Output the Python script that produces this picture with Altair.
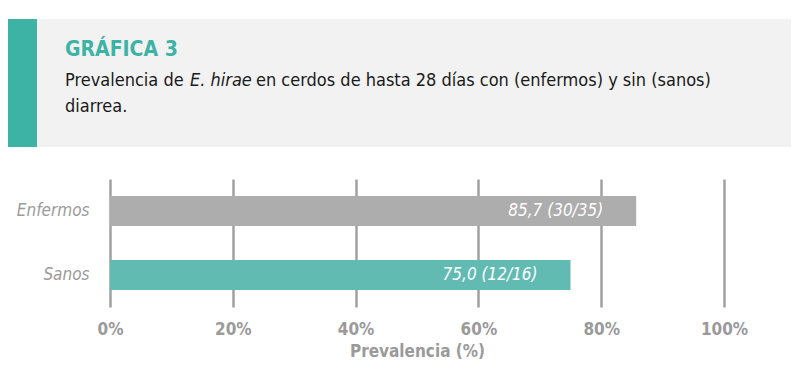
import altair as alt
import pandas as pd

categories = ["Enfermos", "Sanos"]
values = [85.7, 75.0]
labels = ["85,7 (30/35)", "75,0 (12/16)"]
colors = ["#adadad", "#62bbb3"]
ticks = [0, 20, 40, 60, 80, 100]

title_text = "GRÁFICA 3"
sub_a = "Prevalencia de"
sub_b = "E. hirae"
sub_c = "en cerdos de hasta 28 días con (enfermos) y sin (sanos)"
sub_d = "diarrea."

FONT = "'DejaVu Sans Condensed', Roboto, sans-serif"

df = pd.DataFrame({"cat": categories, "val": values, "lab": labels, "col": colors})
one = pd.DataFrame({"a": [0]})

y_enc = alt.Y("cat:N", sort=categories, title=None,
              scale=alt.Scale(paddingInner=0, paddingOuter=0),
              axis=alt.Axis(labelFont=FONT, labelFontStyle="italic", labelFontSize=17,
                            labelColor="#9a9a9a", labelPadding=21, domain=False, ticks=False,
                            grid=False))
x_enc = alt.X("val:Q", title="Prevalencia (%)",
              scale=alt.Scale(domain=[0, 100], nice=False),
              axis=alt.Axis(values=ticks, labelExpr="datum.value + '%'", labelFont=FONT,
                            labelFontWeight="bold", labelFontSize=17, labelColor="#9a9a9a",
                            labelPadding=14, labelFlush=False, titleFont=FONT,
                            titleFontWeight="bold",
                            titleFontSize=17, titleColor="#9a9a9a", titlePadding=6,
                            domain=False, ticks=False, grid=True, gridColor="#a0a0a0",
                            gridWidth=2.5))

bars = alt.Chart(df).mark_bar(size=30).encode(
    x=x_enc, y=y_enc, color=alt.Color("col:N", scale=None))

texts = alt.Chart(df).mark_text(align="right", baseline="middle", dx=-33, font=FONT,
                                fontStyle="italic", fontSize=17, color="white").encode(
    x="val:Q", y=alt.Y("cat:N", sort=categories), text="lab:N")

header_bg = alt.Chart(one).mark_rect(color="#f2f2f2").encode(
    x=alt.value(-102), x2=alt.value(681), y=alt.value(-160), y2=alt.value(-32))
header_strip = alt.Chart(one).mark_rect(color="#3db3a6").encode(
    x=alt.value(-102), x2=alt.value(-73), y=alt.value(-160), y2=alt.value(-32))

def htext(txt, x, y, **kw):
    return alt.Chart(one).mark_text(align="left", baseline="alphabetic", font=FONT,
                                    **kw).encode(x=alt.value(x), y=alt.value(y),
                                                 text=alt.value(txt))

t_title = htext(title_text, -45, -123, fontSize=21, fontWeight="bold", color="#3db3a6")
t_a = htext(sub_a, -45, -93, fontSize=18, color="#1a1a1a")
t_b = htext(sub_b, 80, -93, fontSize=18, fontStyle="italic", color="#1a1a1a")
t_c = htext(sub_c, 146, -93, fontSize=18, color="#1a1a1a")
t_d = htext(sub_d, -45, -67, fontSize=18, color="#1a1a1a")

chart = alt.layer(header_bg, header_strip, t_title, t_a, t_b, t_c, t_d, bars, texts).properties(
    width=614, height=128, autosize="none", background="white",
    padding={"left": 102, "top": 171, "right": 68, "bottom": 65},
).configure_view(stroke="transparent", strokeWidth=0)

chart.save("out.html", embed_options={"renderer": "svg", "actions": False})
